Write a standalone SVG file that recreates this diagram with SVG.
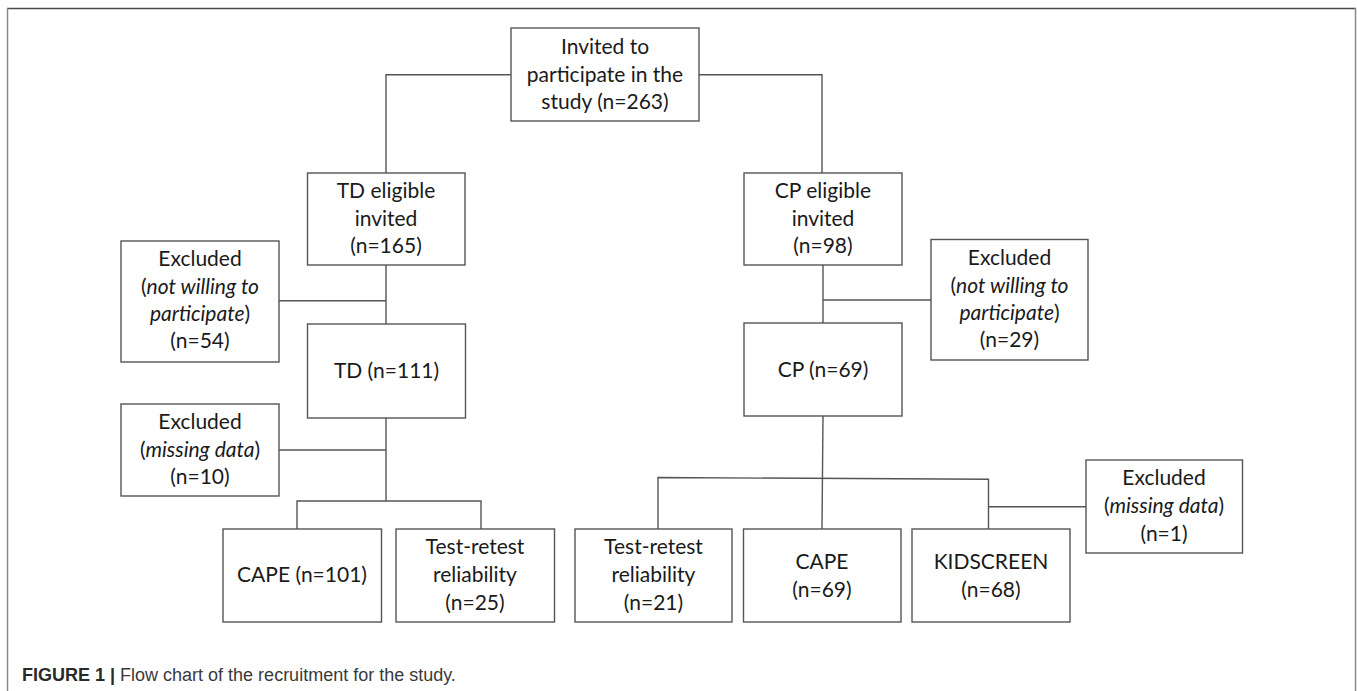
<svg xmlns="http://www.w3.org/2000/svg" width="1357" height="691" viewBox="0 0 1357 691">
<style>
.box{fill:#fff;stroke:#555;stroke-width:1.4}
.t{font-family:Lato,"Liberation Sans",sans-serif;font-size:21px;fill:#1a1a1a;text-anchor:middle}
.i{font-style:italic}
.c{fill:none;stroke:#555;stroke-width:1.4}
.frame{stroke-width:1.5;fill:none}
.cap{font-family:"Liberation Sans",Arial,sans-serif;font-size:18px;fill:#3a3a3a}
</style>
<rect x="0" y="0" width="1357" height="691" fill="#fff"/>
<g id="frame">
<line class="frame" x1="7" y1="8.5" x2="1356" y2="8.5" stroke="#4a4a4a"/>
<line class="frame" x1="7.5" y1="8" x2="7.5" y2="691" stroke="#8a8a8a"/>
<line class="frame" x1="1355.5" y1="8" x2="1355.5" y2="691" stroke="#8a8a8a"/>
</g>
<g id="connectors">
<polyline class="c" points="511,74.7 386,74.7 386,173"/>
<polyline class="c" points="699,74.7 822,74.7 822,173"/>
<line class="c" x1="386" y1="265" x2="386" y2="324"/>
<line class="c" x1="279" y1="300.7" x2="386" y2="300.7"/>
<line class="c" x1="823" y1="265" x2="823" y2="323"/>
<line class="c" x1="823" y1="300" x2="931" y2="300"/>
<line class="c" x1="386" y1="418" x2="386" y2="501"/>
<line class="c" x1="279" y1="450" x2="386" y2="450"/>
<polyline class="c" points="297,529 297,501 481,501 481,529"/>
<line class="c" x1="823" y1="416" x2="822" y2="529"/>
<polyline class="c" points="658,529 658,477.5 988.5,479.3 988.5,529"/>
<line class="c" x1="988.5" y1="506.7" x2="1086" y2="506.7"/>
</g>
<g id="invited">
<rect class="box" x="511" y="28" width="188" height="93"/>
<text class="t" x="605" y="53.5">Invited to</text>
<text class="t" x="605" y="81.5">participate in the</text>
<text class="t" x="605" y="109">study (n=263)</text>
</g>
<g id="td_eligible">
<rect class="box" x="307.5" y="173" width="157.5" height="92"/>
<text class="t" x="386" y="198">TD eligible</text>
<text class="t" x="386" y="226">invited</text>
<text class="t" x="386" y="253">(n=165)</text>
</g>
<g id="cp_eligible">
<rect class="box" x="744" y="173" width="158" height="92"/>
<text class="t" x="823" y="198">CP eligible</text>
<text class="t" x="823" y="226">invited</text>
<text class="t" x="823" y="253">(n=98)</text>
</g>
<g id="excluded_td_unwilling">
<rect class="box" x="121" y="241" width="158" height="121"/>
<text class="t" x="200" y="266">Excluded</text>
<text class="t" x="200" y="293.5">(<tspan class="i">not willing to</tspan></text>
<text class="t" x="200" y="320.5"><tspan class="i">participate</tspan>)</text>
<text class="t" x="200" y="347.5">(n=54)</text>
</g>
<g id="excluded_cp_unwilling">
<rect class="box" x="931" y="239.5" width="157" height="120.5"/>
<text class="t" x="1009.5" y="265">Excluded</text>
<text class="t" x="1009.5" y="292.5">(<tspan class="i">not willing to</tspan></text>
<text class="t" x="1009.5" y="320"><tspan class="i">participate</tspan>)</text>
<text class="t" x="1009.5" y="347">(n=29)</text>
</g>
<g id="td">
<rect class="box" x="307.5" y="324" width="158" height="94"/>
<text class="t" x="386.5" y="378">TD (n=111)</text>
</g>
<g id="cp">
<rect class="box" x="744" y="323" width="158" height="93"/>
<text class="t" x="823" y="377">CP (n=69)</text>
</g>
<g id="excluded_td_missing">
<rect class="box" x="121" y="404" width="158" height="92"/>
<text class="t" x="200" y="428.5">Excluded</text>
<text class="t" x="200" y="456.5">(<tspan class="i">missing data</tspan>)</text>
<text class="t" x="200" y="484">(n=10)</text>
</g>
<g id="excluded_cp_missing">
<rect class="box" x="1086" y="460" width="156.5" height="93"/>
<text class="t" x="1164" y="485">Excluded</text>
<text class="t" x="1164" y="513">(<tspan class="i">missing data</tspan>)</text>
<text class="t" x="1164" y="541">(n=1)</text>
</g>
<g id="cape_td">
<rect class="box" x="223" y="529" width="158.5" height="93"/>
<text class="t" x="302" y="582">CAPE (n=101)</text>
</g>
<g id="retest_td">
<rect class="box" x="396" y="529" width="158.5" height="93"/>
<text class="t" x="475" y="553.5">Test-retest</text>
<text class="t" x="475" y="581.5">reliability</text>
<text class="t" x="475" y="609.5">(n=25)</text>
</g>
<g id="retest_cp">
<rect class="box" x="575" y="529" width="157" height="93"/>
<text class="t" x="653.5" y="553.5">Test-retest</text>
<text class="t" x="653.5" y="581.5">reliability</text>
<text class="t" x="653.5" y="609.5">(n=21)</text>
</g>
<g id="cape_cp">
<rect class="box" x="743.5" y="529" width="157.5" height="93"/>
<text class="t" x="822" y="568.5">CAPE</text>
<text class="t" x="822" y="596.5">(n=69)</text>
</g>
<g id="kidscreen_cp">
<rect class="box" x="912" y="529" width="158" height="93"/>
<text class="t" x="991" y="568.5">KIDSCREEN</text>
<text class="t" x="991" y="596.5">(n=68)</text>
</g>
<g id="caption">
<text class="cap" x="22" y="681"><tspan font-weight="bold" fill="#2a2a2a">FIGURE 1 |</tspan> Flow chart of the recruitment for the study.</text>
</g>
</svg>
